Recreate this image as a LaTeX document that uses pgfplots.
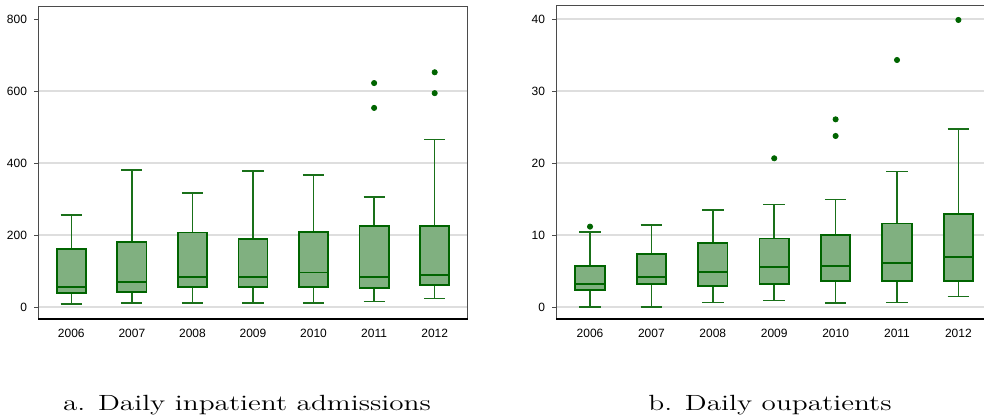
\documentclass[border=0pt]{standalone}
\usepackage{pgfplots}
\pgfplotsset{compat=1.18}
\usepgfplotslibrary{statistics}
\usepackage{graphicx}
\usepackage{fontspec}
\newfontfamily\ticksf{Liberation Sans}

\definecolor{boxfill}{RGB}{128,176,128}
\definecolor{boxedge}{RGB}{0,100,0}
\definecolor{whisk}{RGB}{25,112,25}
\definecolor{gridc}{RGB}{222,222,222}
\definecolor{axc}{RGB}{75,75,75}

\pgfplotsset{
  panel/.style={
    scale only axis, anchor=south west,
    height=156.5pt,
    xtick={1,...,7}, xticklabels={2006,2007,2008,2009,2010,2011,2012},
    xtick style={draw=none},
    xticklabel style={yshift=-1.5pt},
    ytick pos=left, ytick align=outside,
    major tick length=2pt,
    ytick style={axc, line width=0.4pt},
    tick label style={font=\ticksf\fontsize{6}{7}\selectfont},
    /pgf/number format/assume math mode=true,
    axis line style={axc, line width=0.5pt},
    ymajorgrids=true,
    major grid style={gridc, line width=0.6pt},
    clip=false,
  },
  bp/.style={
    boxplot/draw direction=y,
    boxplot/box extend=0.48,
    boxplot/whisker extend=0.35,
    boxplot/every box/.style={fill=boxfill, draw=boxedge, line width=0.9pt},
    boxplot/every whisker/.style={draw=whisk, line width=0.75pt},
    boxplot/every median/.style={draw=boxedge, line width=0.9pt},
    draw=boxedge, mark=*, mark size=1.3pt,
    mark options={fill=boxedge, draw=boxedge},
  },
}

\begin{document}
\begin{tikzpicture}
\useasboundingbox (0,0) rectangle (492pt,209.5pt);

% a. inpatient admissions
\begin{axis}[panel, at={(19pt,50pt)}, width=215pt,
  xmin=0.45, xmax=7.55, ymin=-33.3, ymax=836,
  ytick={0,200,400,600},
  extra y ticks={800}, extra y tick style={grid=none}]
  \addplot[bp, boxplot prepared={draw position=1, lower whisker=9, lower quartile=40, median=55, upper quartile=161, upper whisker=256}] coordinates {};
  \addplot[bp, boxplot prepared={draw position=2, lower whisker=11, lower quartile=42, median=69, upper quartile=180, upper whisker=380}] coordinates {};
  \addplot[bp, boxplot prepared={draw position=3, lower whisker=11, lower quartile=55, median=83, upper quartile=207, upper whisker=317}] coordinates {};
  \addplot[bp, boxplot prepared={draw position=4, lower whisker=11, lower quartile=55, median=83, upper quartile=190, upper whisker=378}] coordinates {};
  \addplot[bp, boxplot prepared={draw position=5, lower whisker=11, lower quartile=56, median=96, upper quartile=209, upper whisker=367}] coordinates {};
  \addplot[bp, boxplot prepared={draw position=6, lower whisker=15, lower quartile=53, median=83, upper quartile=226, upper whisker=306}] coordinates {(6,622) (6,553)};
  \addplot[bp, boxplot prepared={draw position=7, lower whisker=23, lower quartile=62, median=89, upper quartile=226, upper whisker=465}] coordinates {(7,652) (7,594)};
  \draw[black, line width=0.9pt] (rel axis cs:0,0) -- (rel axis cs:1,0);
\end{axis}

% b. outpatients
\begin{axis}[panel, at={(278pt,50pt)}, width=214pt,
  axis x line*=box, axis y line*=left,
  xmin=0.446, xmax=7.417, ymin=-1.667, ymax=41.8,
  ytick={0,10,20,30,40}]
  \addplot[bp, boxplot prepared={draw position=1, lower whisker=0, lower quartile=2.4, median=3.2, upper quartile=5.7, upper whisker=10.4}] coordinates {(1,11.16)};
  \addplot[bp, boxplot prepared={draw position=2, lower whisker=0, lower quartile=3.24, median=4.17, upper quartile=7.4, upper whisker=11.4}] coordinates {};
  \addplot[bp, boxplot prepared={draw position=3, lower whisker=0.65, lower quartile=2.9, median=4.9, upper quartile=8.9, upper whisker=13.5}] coordinates {};
  \addplot[bp, boxplot prepared={draw position=4, lower whisker=0.88, lower quartile=3.15, median=5.6, upper quartile=9.5, upper whisker=14.26}] coordinates {(4,20.65)};
  \addplot[bp, boxplot prepared={draw position=5, lower whisker=0.56, lower quartile=3.56, median=5.7, upper quartile=10.05, upper whisker=14.9}] coordinates {(5,26.06) (5,23.75)};
  \addplot[bp, boxplot prepared={draw position=6, lower whisker=0.65, lower quartile=3.56, median=6.06, upper quartile=11.6, upper whisker=18.8}] coordinates {(6,34.3)};
  \addplot[bp, boxplot prepared={draw position=7, lower whisker=1.44, lower quartile=3.66, median=6.94, upper quartile=12.87, upper whisker=24.7}] coordinates {(7,39.86)};
  \draw[black, line width=0.9pt] (rel axis cs:0,0) -- (rel axis cs:1,0);
\end{axis}

\node[anchor=base, inner sep=0pt] at (123.5pt,4.5pt)
  {\scalebox{1.33}[1]{\fontsize{11}{13}\selectfont a. Daily inpatient admissions}};
\node[anchor=base, inner sep=0pt] at (385pt,4.5pt)
  {\scalebox{1.33}[1]{\fontsize{11}{13}\selectfont b. Daily oupatients}};
\end{tikzpicture}
\end{document}
